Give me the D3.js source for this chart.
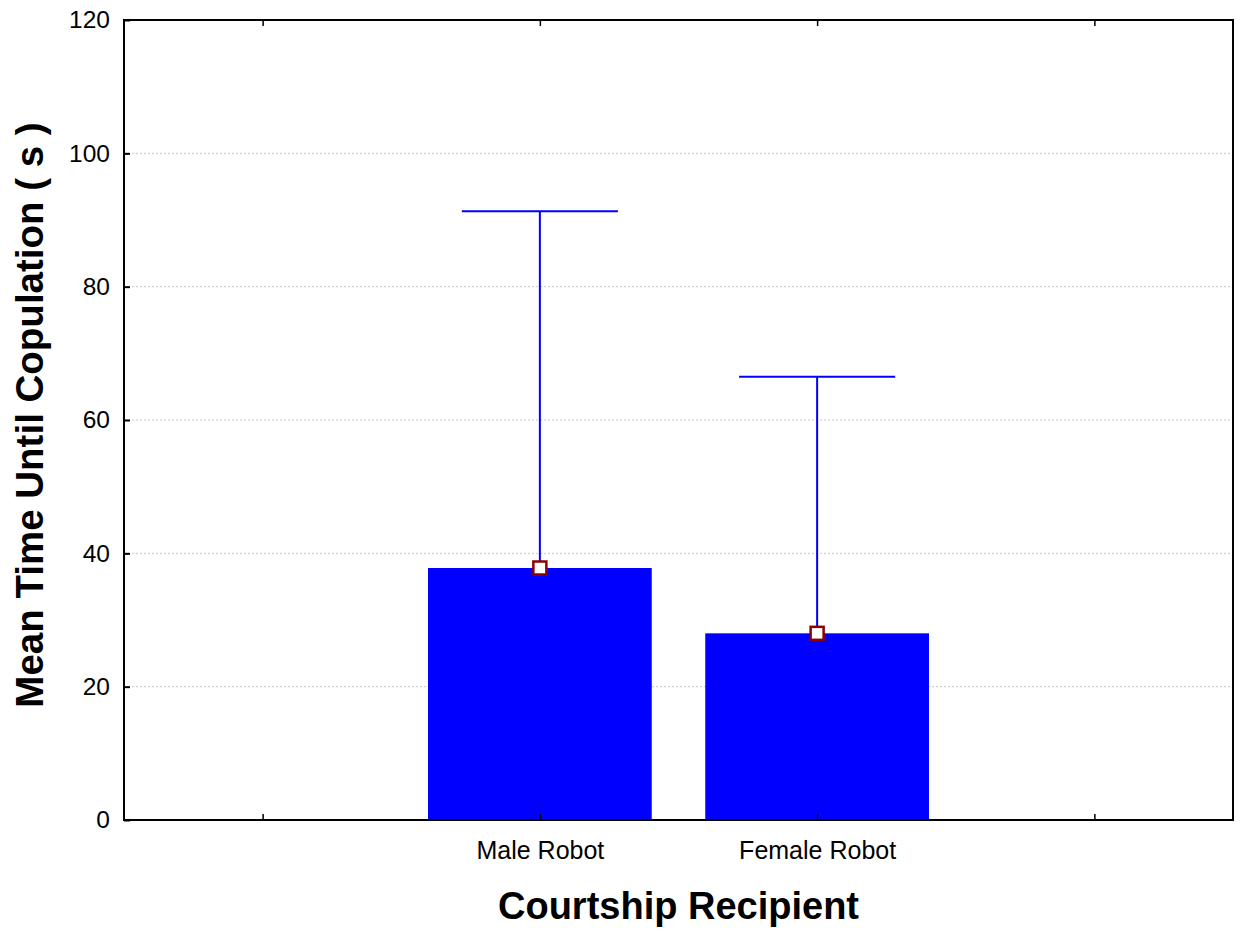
<!DOCTYPE html>
<html>
<head>
<meta charset="utf-8">
<script src="https://cdn.jsdelivr.net/npm/d3@7.9.0/dist/d3.min.js"></script>
<style>
  body { margin: 0; background: #fff; }
  svg { display: block; font-family: "Liberation Sans", Arial, sans-serif; }
</style>
</head>
<body>
<svg id="chart" width="1243" height="931"></svg>
<script>
// slots on the x axis: an empty one at each end, like the original plot
const slots = ['', 'Male Robot', 'Female Robot', ' '];
const categories = ['Male Robot', 'Female Robot'];
const means = [37.8, 28.0];
const upperErr = [91.3, 66.5];
const yTicks = [0, 20, 40, 60, 80, 100, 120];

const width = 1243, height = 931;
const margin = { top: 20, right: 10, bottom: 111, left: 124 };
const innerW = width - margin.left - margin.right;
const innerH = height - margin.top - margin.bottom;

const svg = d3.select('#chart');
const g = svg.append('g').attr('transform', `translate(${margin.left},${margin.top})`);

let xCenter = d3.scaleBand().domain(slots).range([0, innerW]);
let y = d3.scaleLinear().domain([0, 120]).range([innerH, 0]);

// grid lines
g.append('g')
  .selectAll('line')
  .data(yTicks.filter((d) => d > 0 && d < 120))
  .join('line')
  .attr('x1', 0)
  .attr('x2', innerW)
  .attr('y1', (d) => y(d))
  .attr('y2', (d) => y(d))
  .attr('stroke', '#c8c8c8')
  .attr('stroke-width', 1)
  .attr('stroke-dasharray', '2,2');

// bars
const bw = xCenter.bandwidth() * 0.807;
g.append('g')
  .selectAll('rect')
  .data(categories)
  .join('rect')
  .attr('x', (d) => xCenter(d) + xCenter.bandwidth() / 2 - bw / 2)
  .attr('width', bw)
  .attr('y', (d, i) => y(means[i]))
  .attr('height', (d, i) => y(0) - y(means[i]))
  .attr('fill', '#0000ff');

// error bars (upper only)
const capW = xCenter.bandwidth() * 0.563;
const err = g.append('g').attr('stroke', '#0000ff').attr('stroke-width', 2);
categories.forEach((c, i) => {
  const cx = xCenter(c) + xCenter.bandwidth() / 2;
  err.append('line')
    .attr('x1', cx).attr('x2', cx)
    .attr('y1', y(means[i])).attr('y2', y(upperErr[i]));
  err.append('line')
    .attr('x1', cx - capW / 2).attr('x2', cx + capW / 2)
    .attr('y1', y(upperErr[i])).attr('y2', y(upperErr[i]));
});

// mean markers
g.append('g')
  .selectAll('rect')
  .data(categories)
  .join('rect')
  .attr('x', (d) => xCenter(d) + xCenter.bandwidth() / 2 - 6.5)
  .attr('y', (d, i) => y(means[i]) - 6.5)
  .attr('width', 13)
  .attr('height', 13)
  .attr('fill', '#fff')
  .attr('stroke', '#8b0000')
  .attr('stroke-width', 2.5);

// axes
let yAxis = d3.axisLeft(y).tickValues(yTicks).tickSizeInner(-6).tickSizeOuter(0).tickPadding(14);
let gy = g.append('g').call(yAxis);
gy.select('.domain').remove();
gy.selectAll('.tick line').attr('stroke', '#000').attr('stroke-width', 2);
gy.selectAll('.tick text').attr('font-size', 24.5).attr('fill', '#000')
  .attr('font-family', '"Liberation Sans", Arial, sans-serif');

const centerScale = (d) => xCenter(d) + xCenter.bandwidth() / 2;
let xAxis = d3.axisBottom(d3.scalePoint().domain(slots).range([centerScale(''), centerScale(' ')]))
  .tickSizeInner(-6).tickSizeOuter(0).tickPadding(21).tickFormat((d) => d.trim());
let gx = g.append('g').attr('transform', `translate(0,${innerH})`).call(xAxis);
gx.select('.domain').remove();
gx.selectAll('.tick line').attr('stroke', '#000').attr('stroke-width', 1.5);
gx.selectAll('.tick text').attr('font-size', 25).attr('fill', '#000')
  .attr('font-family', '"Liberation Sans", Arial, sans-serif');

let xTop = d3.axisTop(d3.scalePoint().domain(slots).range([centerScale(''), centerScale(' ')]))
  .tickSizeInner(-6).tickSizeOuter(0).tickFormat('');
let gt = g.append('g').call(xTop);
gt.select('.domain').remove();
gt.selectAll('.tick line').attr('stroke', '#000').attr('stroke-width', 1.5);

// frame
g.append('rect')
  .attr('x', 0).attr('y', 0)
  .attr('width', innerW).attr('height', innerH)
  .attr('fill', 'none')
  .attr('stroke', '#000')
  .attr('stroke-width', 2);

// axis titles
svg.append('text')
  .attr('x', margin.left + innerW / 2)
  .attr('y', 919)
  .attr('text-anchor', 'middle')
  .attr('font-size', 38)
  .attr('font-weight', 'bold')
  .text('Courtship Recipient');

svg.append('text')
  .attr('transform', `translate(43,${margin.top + innerH / 2 - 5}) rotate(-90)`)
  .attr('text-anchor', 'middle')
  .attr('font-size', 38.5)
  .attr('font-weight', 'bold')
  .text('Mean Time Until Copulation ( s )');
</script>
</body>
</html>
